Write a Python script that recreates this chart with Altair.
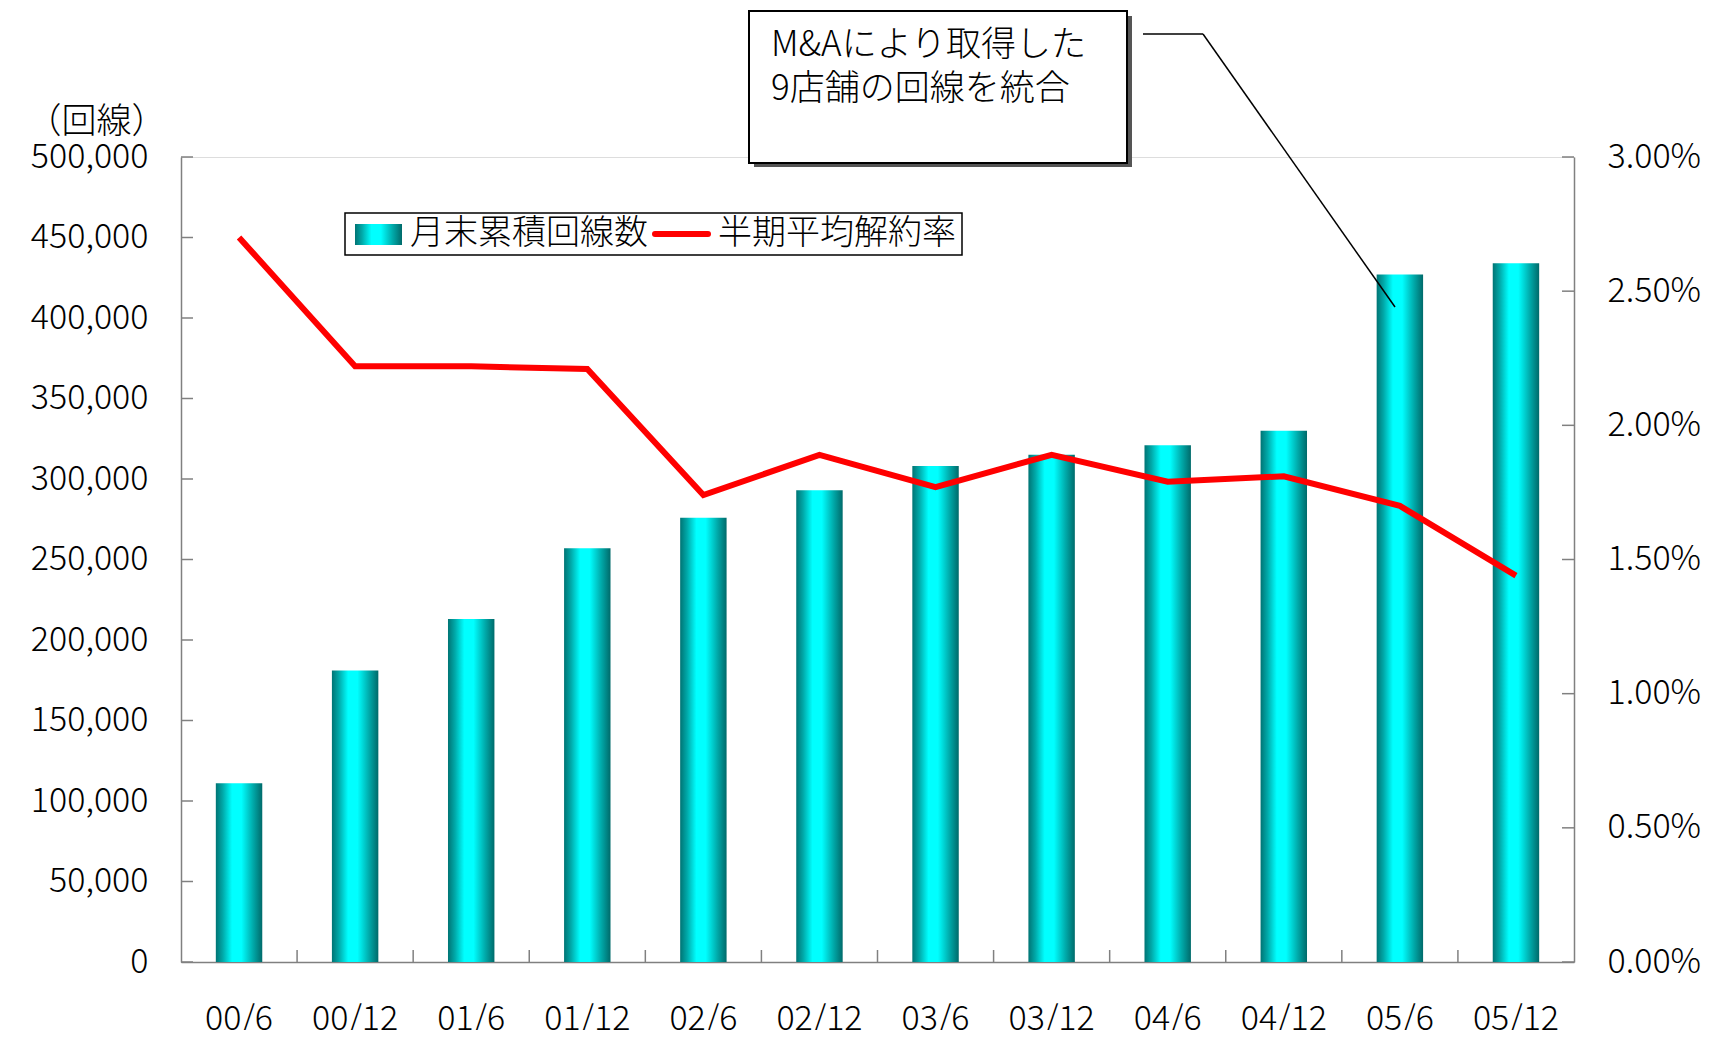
import altair as alt
import pandas as pd

# ---- data ----
periods = ["00/6", "00/12", "01/6", "01/12", "02/6", "02/12",
           "03/6", "03/12", "04/6", "04/12", "05/6", "05/12"]
lines_cum = [111000, 181000, 213000, 257000, 276000, 293000,
             308000, 315000, 321000, 330000, 427000, 434000]
churn_pct = [2.70, 2.22, 2.22, 2.21, 1.74, 1.89,
             1.77, 1.89, 1.79, 1.81, 1.70, 1.44]
left_ticks = [0, 50000, 100000, 150000, 200000, 250000,
              300000, 350000, 400000, 450000, 500000]
right_ticks = [0.0, 0.005, 0.01, 0.015, 0.02, 0.025, 0.03]
bar_label = "月末累積回線数"
line_label = "半期平均解約率"
y_title = "（回線）"
note_lines = ["M&Aにより取得した", "9店舗の回線を統合"]

W, H = 1393, 805
FONT = "Noto Sans CJK JP"
FW = 300
GRAY = "#808080"

df = pd.DataFrame({
    "period": periods,
    "lines": lines_cum,
    "churn": [c / 100 for c in churn_pct],
})
df_lt = pd.DataFrame({"v": left_ticks})
df_rt = pd.DataFrame({"v": right_ticks})
df_xt = pd.DataFrame({"period": periods[1:]})
one = pd.DataFrame({"a": [0]})

xscale = alt.Scale(domain=periods, paddingInner=0, paddingOuter=0)
lscale = alt.Scale(domain=[0, 500000], nice=False)
rscale = alt.Scale(domain=[0, 0.03], nice=False)

grad = alt.LinearGradient(
    gradient="linear", x1=0, x2=1, y1=0, y2=0,
    stops=[
        alt.GradientStop(offset=0.0, color="#007474"),
        alt.GradientStop(offset=0.15, color="#00a9a9"),
        alt.GradientStop(offset=0.35, color="#00ffff"),
        alt.GradientStop(offset=0.55, color="#00ffff"),
        alt.GradientStop(offset=0.8, color="#00aaaa"),
        alt.GradientStop(offset=1.0, color="#006a6a"),
    ],
)

xaxis = alt.Axis(title=None, ticks=False, labelAngle=0, labelFontSize=34,
                 labelPadding=40, labelColor="black", domainColor=GRAY,
                 domainWidth=1.5, labelFont=FONT, labelFontWeight=FW)

bars = alt.Chart(df).mark_bar(width=alt.RelativeBandSize(0.4), fill=grad).encode(
    x=alt.X("period:N", sort=periods, scale=xscale, axis=xaxis),
    y=alt.Y("lines:Q", scale=lscale,
            axis=alt.Axis(orient="left", values=left_ticks, format=",d",
                          ticks=False, grid=False, labelFontSize=34,
                          labelPadding=33, labelColor="black",
                          domainColor=GRAY, domainWidth=1.5, labelFont=FONT,
                          labelFontWeight=FW,
                          title=y_title, titleAngle=0, titleAlign="right",
                          titleBaseline="middle", titleX=-15, titleY=-36,
                          titleFontSize=35, titleFontWeight=FW,
                          titleFont=FONT, titleColor="black")),
)

lticks = alt.Chart(df_lt).mark_rule(color=GRAY, strokeWidth=1.5).encode(
    y=alt.Y("v:Q", scale=lscale, axis=None),
    x=alt.value(0), x2=alt.value(12),
)

xticks = alt.Chart(df_xt).mark_rule(color=GRAY, strokeWidth=1.5).encode(
    x=alt.X("period:N", sort=periods, scale=xscale, bandPosition=0),
    y=alt.value(H), y2=alt.value(H - 12),
)

line = alt.Chart(df).mark_line(color="#ff0000", strokeWidth=6).encode(
    x=alt.X("period:N", sort=periods, scale=xscale),
    y=alt.Y("churn:Q", scale=rscale,
            axis=alt.Axis(orient="right", values=right_ticks, format=".2%",
                          ticks=False, grid=False, labelFontSize=34,
                          labelPadding=33, labelColor="black",
                          domainColor=GRAY, domainWidth=1.5, labelFont=FONT,
                          labelFontWeight=FW, title=None)),
)

rticks = alt.Chart(df_rt).mark_rule(color=GRAY, strokeWidth=1.5).encode(
    y=alt.Y("v:Q", scale=rscale, axis=None),
    x=alt.value(W - 12), x2=alt.value(W),
)

# ---- legend (drawn inside plot) ----
leg_box = alt.Chart(one).mark_rect(fill="white", stroke="black", strokeWidth=1.5).encode(
    x=alt.value(164), x2=alt.value(781), y=alt.value(56), y2=alt.value(98))
leg_sw = alt.Chart(one).mark_rect(fill=grad).encode(
    x=alt.value(174), x2=alt.value(221), y=alt.value(67), y2=alt.value(88))
leg_t1 = alt.Chart(one).mark_text(text=bar_label, align="left", baseline="middle",
                                  fontSize=34, font=FONT, fontWeight=FW,
                                  color="black").encode(
    x=alt.value(229), y=alt.value(77))
leg_ln = alt.Chart(one).mark_rule(color="#ff0000", strokeWidth=6, strokeCap="round").encode(
    x=alt.value(474), x2=alt.value(527), y=alt.value(77))
leg_t2 = alt.Chart(one).mark_text(text=line_label, align="left", baseline="middle",
                                  fontSize=34, font=FONT, fontWeight=FW,
                                  color="black").encode(
    x=alt.value(537), y=alt.value(77))

# ---- annotation ----
note_shadow = alt.Chart(one).mark_rect(fill="#555555").encode(
    x=alt.value(573), x2=alt.value(951), y=alt.value(-141), y2=alt.value(10))
note_box = alt.Chart(one).mark_rect(fill="white", stroke="black", strokeWidth=2).encode(
    x=alt.value(568), x2=alt.value(946), y=alt.value(-146), y2=alt.value(6))
note_text = alt.Chart(one).mark_text(text=note_lines, align="left", baseline="middle",
                                     fontSize=35, font=FONT, fontWeight=FW,
                                     color="black", lineHeight=44).encode(
    x=alt.value(590), y=alt.value(-112))
lead1 = alt.Chart(one).mark_rule(color="black", strokeWidth=1.5).encode(
    x=alt.value(962), x2=alt.value(1022), y=alt.value(-123), y2=alt.value(-123))
lead2 = alt.Chart(one).mark_rule(color="black", strokeWidth=1.5).encode(
    x=alt.value(1022), x2=alt.value(1214), y=alt.value(-123), y2=alt.value(150))

chart = alt.layer(
    bars, lticks, xticks, line, rticks,
    leg_box, leg_sw, leg_t1, leg_ln, leg_t2,
    note_shadow, note_box, note_text, lead1, lead2,
).resolve_scale(y="independent").properties(
    width=W, height=H,
    autosize=alt.AutoSizeParams(type="none"),
    padding={"left": 173, "top": 149, "right": 131, "bottom": 68},
).configure_view(stroke=None).configure(background="white")

chart.save("out.html", embed_options={"renderer": "svg", "actions": False})
